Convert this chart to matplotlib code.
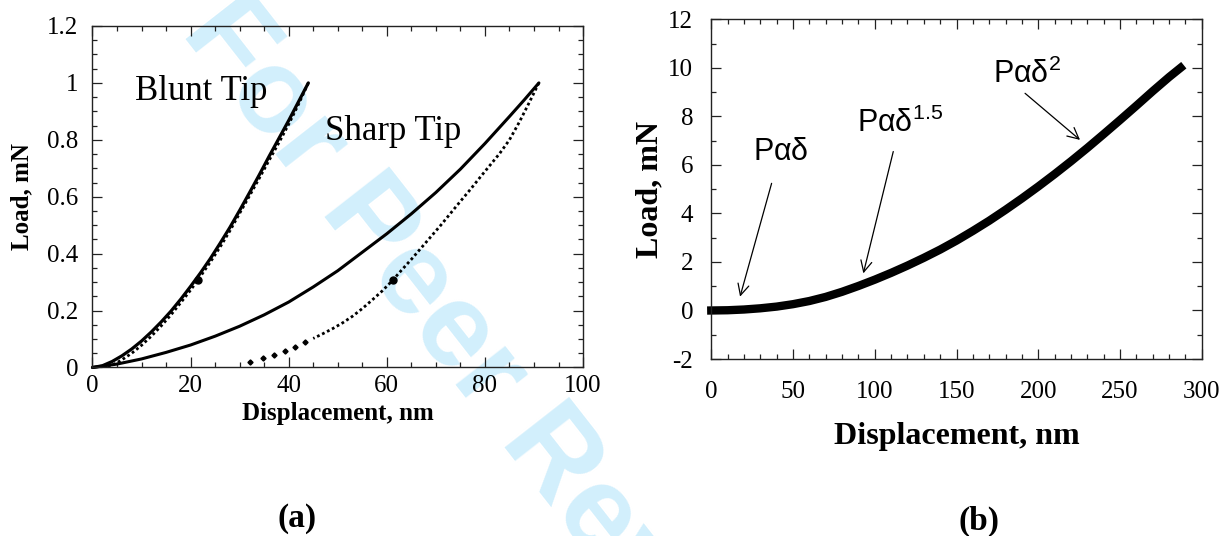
import matplotlib
matplotlib.use("Agg")
import matplotlib.pyplot as plt
from matplotlib.ticker import MultipleLocator, FixedLocator

# ---------------- data ----------------
# Panel (a): load-displacement curves
blunt_load_x = [0, 2, 4, 6, 8, 10, 12, 14, 16, 18, 20, 22, 24, 26, 28, 30, 32, 34, 36, 38, 40, 42, 44]
blunt_load_y = [0, 0.006, 0.021, 0.041, 0.065, 0.093, 0.125, 0.16, 0.198, 0.24, 0.285, 0.332, 0.382,
                0.436, 0.492, 0.552, 0.614, 0.677, 0.742, 0.805, 0.868, 0.934, 1.0]
blunt_unload_x = [44, 42, 40, 38, 36, 34, 32, 30, 28, 26, 24, 22, 20, 18, 16, 14, 12, 10, 8, 6, 5, 4, 3]
blunt_unload_y = [1.0, 0.925, 0.855, 0.79, 0.728, 0.665, 0.603, 0.542, 0.48, 0.423, 0.37, 0.32, 0.272,
                  0.228, 0.185, 0.146, 0.11, 0.078, 0.05, 0.027, 0.017, 0.008, 0.002]
sharp_load_x = [0, 5, 10, 15, 20, 25, 30, 35, 40, 45, 50, 55, 60, 65, 70, 75, 80, 85, 88, 91]
sharp_load_y = [0, 0.012, 0.03, 0.053, 0.079, 0.11, 0.145, 0.185, 0.23, 0.283, 0.34, 0.405, 0.47,
                0.54, 0.615, 0.697, 0.787, 0.882, 0.94, 1.0]
sharp_unload_x = [91, 89, 87, 85, 83, 81, 79, 77, 75, 73, 71, 69, 67, 65, 63, 61, 59, 57, 55, 53,
                  51, 49, 47, 45]
sharp_unload_y = [1.0, 0.93, 0.862, 0.80, 0.752, 0.71, 0.668, 0.625, 0.584, 0.542, 0.5, 0.46, 0.42,
                  0.38, 0.342, 0.303, 0.268, 0.237, 0.207, 0.18, 0.157, 0.137, 0.119, 0.102]
sharp_tail_x = [32.1, 34.7, 37.0, 39.2, 41.3, 43.3]
sharp_tail_y = [0.018, 0.032, 0.045, 0.058, 0.073, 0.088]
mark_x = [21.6, 61.3]
mark_y = [0.307, 0.307]

a_xticks = [0, 20, 40, 60, 80, 100]
a_yticks = [0, 0.2, 0.4, 0.6, 0.8, 1.0, 1.2]
a_yticklabels = ["0", "0.2", "0.4", "0.6", "0.8", "1", "1.2"]

# Panel (b): single loading curve
b_x = [0, 10, 20, 30, 40, 50, 60, 70, 80, 90, 100, 110, 120, 130, 140, 150, 160, 170, 180, 190,
       200, 210, 220, 230, 240, 250, 260, 270, 280, 287]
b_y = [0, 0.01, 0.04, 0.09, 0.16, 0.26, 0.39, 0.56, 0.77, 1.01, 1.27, 1.55, 1.85, 2.17, 2.51, 2.88,
       3.28, 3.70, 4.15, 4.62, 5.11, 5.62, 6.15, 6.70, 7.27, 7.85, 8.44, 9.04, 9.62, 10.0]
b_xticks = [0, 50, 100, 150, 200, 250, 300]
b_yticks = [-2, 0, 2, 4, 6, 8, 10, 12]

# annotations for (b): label, text position, arrow tail, arrow head
b_notes = [
    (r"$\mathrm{P\alpha\delta}$", (25.5, 6.2), (36.9, 5.24), (17.6, 0.57)),
    (r"$\mathrm{P\alpha\delta^{1.5}}$", (88.9, 7.37), (111.3, 6.55), (93.0, 1.53)),
    (r"$\mathrm{P\alpha\delta^{2}}$", (172.1, 9.39), (191.9, 8.95), (225.5, 7.03)),
]

# ---------------- style ----------------
plt.rcParams["font.family"] = ["Liberation Serif", "DejaVu Serif"]
plt.rcParams["mathtext.fontset"] = "custom"
plt.rcParams["mathtext.rm"] = "Liberation Sans"
plt.rcParams["mathtext.it"] = "Liberation Sans"
plt.rcParams["axes.unicode_minus"] = False

SPINE = "#222222"

fig = plt.figure(figsize=(12.31, 5.36), dpi=100)

# watermark
fig.text(0.398, 0.291, "For Peer Review", rotation=-52, rotation_mode="anchor",
         ha="center", va="center", fontsize=86, fontweight="bold",
         family="Liberation Sans", color="#d2effc", zorder=-10)


def style_axes(ax, xpad, ypad):
    ax.patch.set_alpha(0)
    for s in ax.spines.values():
        s.set_color(SPINE)
        s.set_linewidth(1.0)
    ax.tick_params(which="both", direction="in", top=True, right=True, color=SPINE, width=0.9)
    ax.tick_params(which="major", length=7.2)
    ax.tick_params(which="minor", length=3.6)
    ax.tick_params(axis="x", which="major", labelsize=18, pad=xpad)
    ax.tick_params(axis="y", which="major", labelsize=18, pad=ypad)


# ---------------- panel (a) ----------------
axa = fig.add_axes([0.07514, 0.3144, 0.3985, 0.6371])
axa.plot(blunt_load_x, blunt_load_y, color="black", lw=2.3, clip_on=False, solid_capstyle="round")
axa.plot(blunt_unload_x, blunt_unload_y, color="black", lw=2.0, ls=(0, (1, 1)), clip_on=False)
axa.plot(sharp_load_x, sharp_load_y, color="black", lw=2.2, clip_on=False, solid_capstyle="round")
axa.plot(sharp_unload_x, sharp_unload_y, color="black", lw=2.0, ls=(0, (1, 1)), clip_on=False)
axa.plot(sharp_tail_x, sharp_tail_y, ls="none", marker="D", ms=2.6, color="black")
axa.plot(mark_x, mark_y, ls="none", marker="o", ms=5, color="black")
axa.set_xlim(0, 100)
axa.set_ylim(0, 1.2)
axa.xaxis.set_major_locator(FixedLocator(a_xticks))
axa.xaxis.set_minor_locator(MultipleLocator(5))
axa.set_yticks(a_yticks)
axa.set_yticklabels(a_yticklabels)
axa.yaxis.set_minor_locator(MultipleLocator(0.05))
style_axes(axa, 5.5, 10)
axa.set_xlabel("Displacement, nm", fontsize=18, fontweight="bold", va="center")
axa.xaxis.set_label_coords(0.5, -0.136)
axa.set_ylabel("Load, mN", fontsize=18, fontweight="bold", va="center")
axa.yaxis.set_label_coords(-0.1445, 0.5)
axa.text(8.7, 0.94, "Blunt Tip", fontsize=25, va="baseline", ha="left")
axa.text(47.4, 0.80, "Sharp Tip", fontsize=25, va="baseline", ha="left")

# ---------------- panel (b) ----------------
axb = fig.add_axes([0.5778, 0.3302, 0.3985, 0.6338])
axb.plot(b_x, b_y, color="black", lw=6.0, solid_capstyle="projecting",
         solid_joinstyle="round", clip_on=False)
axb.set_xlim(0, 300)
axb.set_ylim(-2, 12)
axb.set_xticks(b_xticks)
axb.xaxis.set_minor_locator(MultipleLocator(10))
axb.set_yticks(b_yticks)
axb.yaxis.set_minor_locator(MultipleLocator(1))
style_axes(axb, 16, 13)
axb.set_xlabel("Displacement, nm", fontsize=23, fontweight="bold", va="center")
axb.xaxis.set_label_coords(0.5, -0.2267)
axb.set_ylabel("Load, mN", fontsize=23, fontweight="bold", va="center")
axb.yaxis.set_label_coords(-0.125, 0.5)
for label, tpos, tail, head in b_notes:
    axb.text(tpos[0], tpos[1], label, fontsize=22, va="baseline", ha="left")
    axb.annotate("", xy=head, xytext=tail,
                 arrowprops=dict(arrowstyle="->", lw=0.9, color="black",
                                 mutation_scale=20, shrinkA=0, shrinkB=0))

# panel letters
fig.text(297 / 1231, 1 - 518 / 536, "(a)", fontsize=24, fontweight="bold", ha="center", va="center")
fig.text(979 / 1231, 1 - 521 / 536, "(b)", fontsize=24, fontweight="bold", ha="center", va="center")

fig.savefig("out.png", dpi=100)
